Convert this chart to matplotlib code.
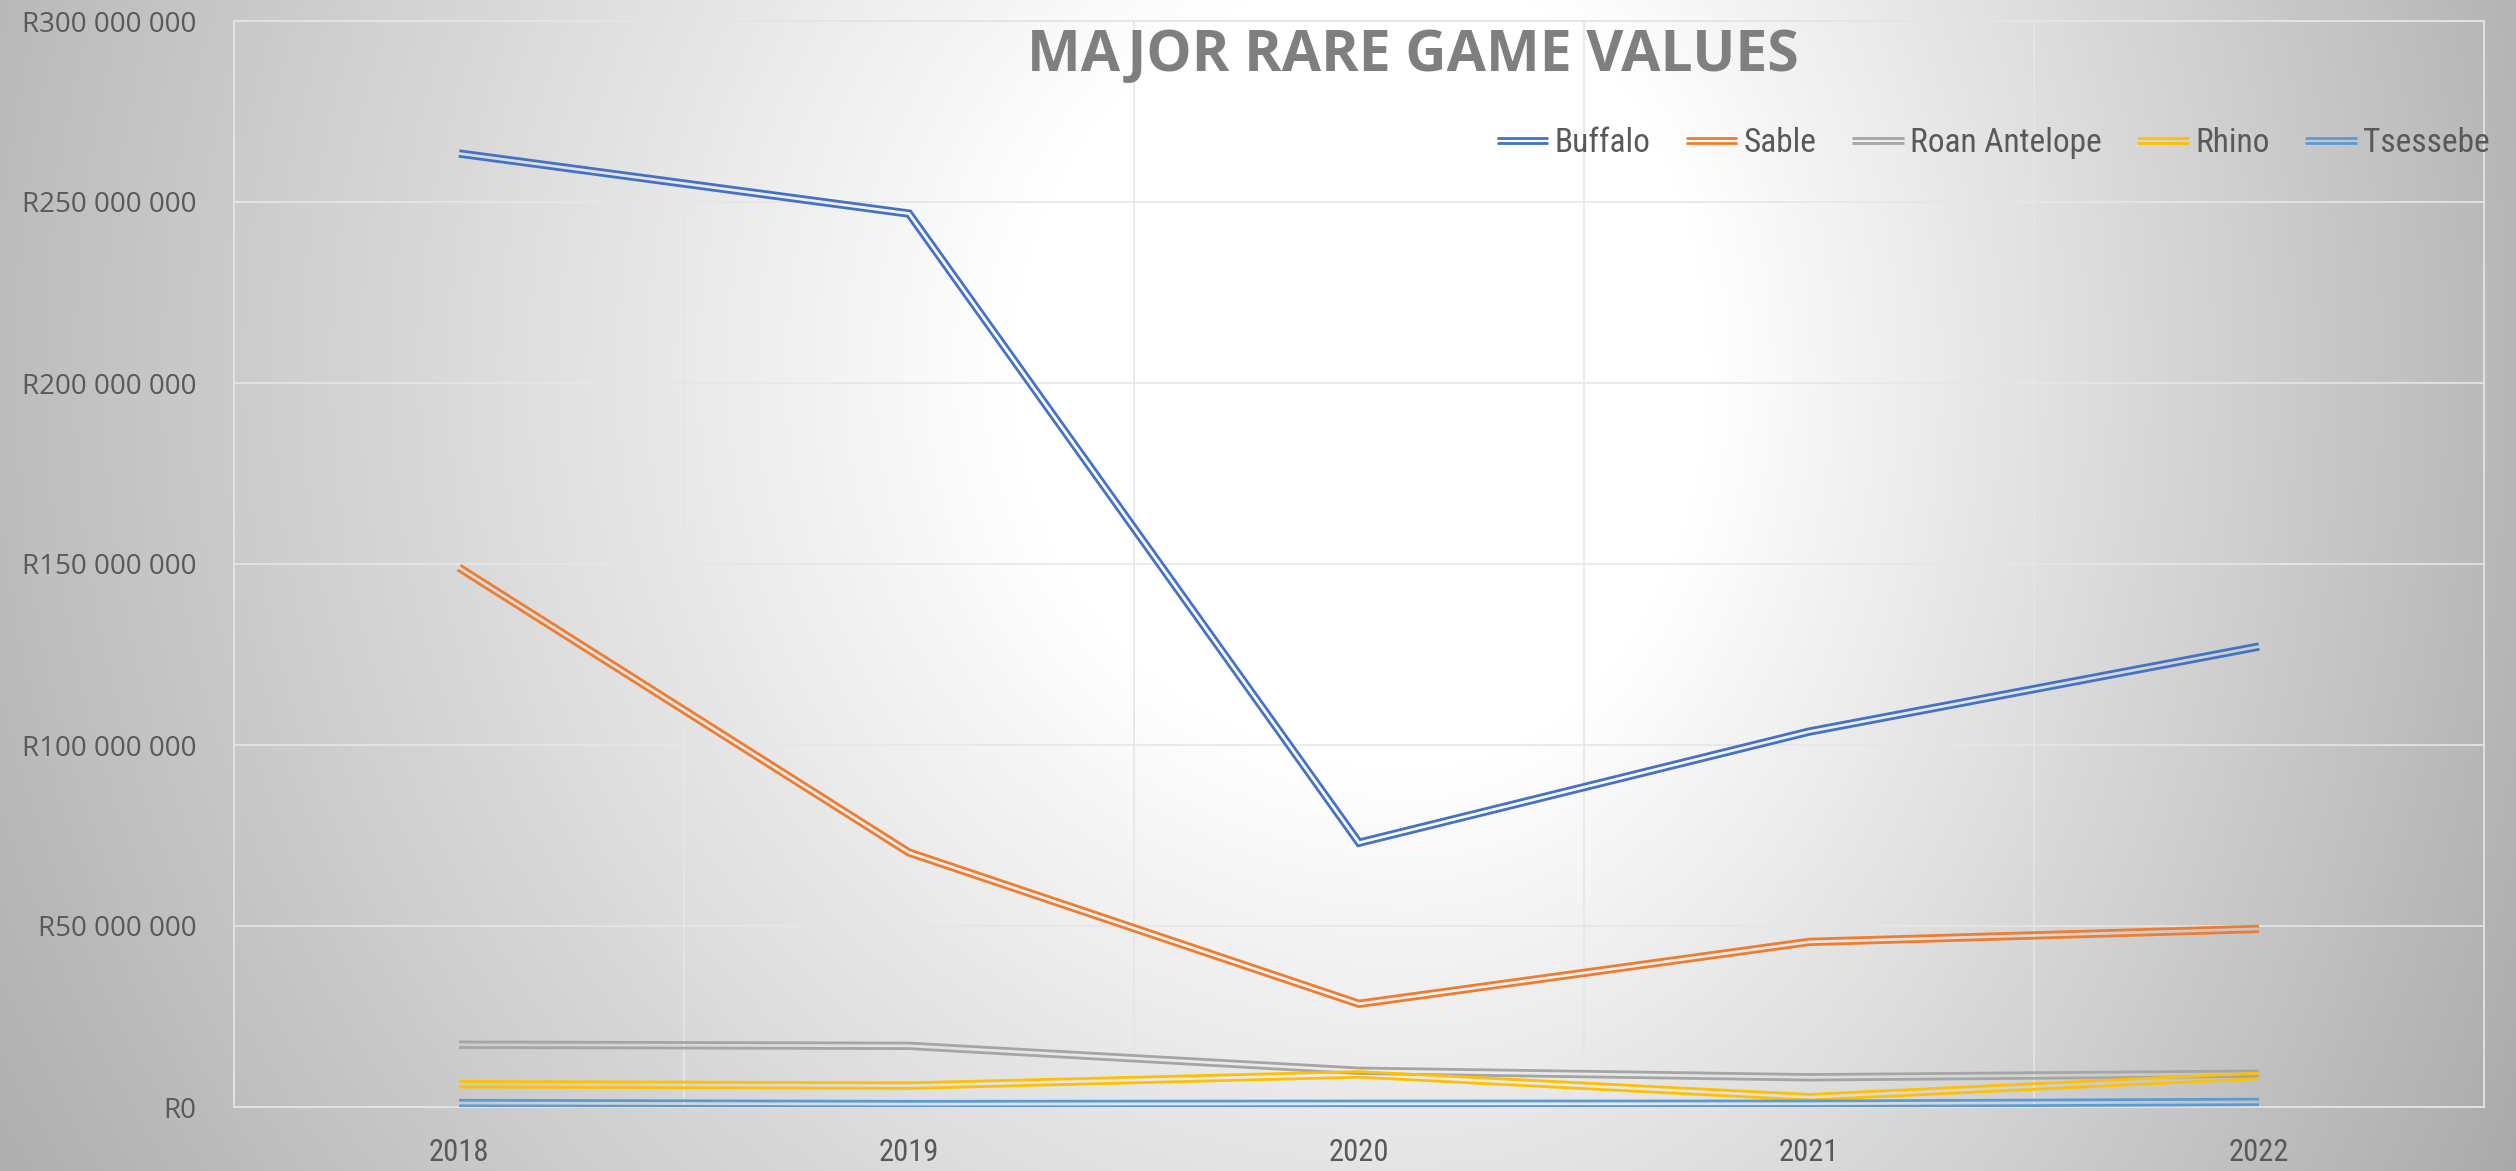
import numpy as np
import matplotlib
matplotlib.use("Agg")
import matplotlib.pyplot as plt
import matplotlib.font_manager as fm
from matplotlib.patheffects import AbstractPathEffect
from matplotlib.path import Path
from matplotlib.transforms import IdentityTransform
from matplotlib.ticker import FuncFormatter, MultipleLocator, FixedLocator

# values (Rand)
years = ["2018", "2019", "2020", "2021", "2022"]
buffalo = [263.4e6, 246.8e6, 73.0e6, 103.7e6, 127.2e6]
sable = [149.0e6, 70.3e6, 28.5e6, 45.6e6, 49.2e6]
roan_antelope = [17.2e6, 16.9e6, 10.0e6, 8.2e6, 9.2e6]
rhino = [6.3e6, 5.9e6, 9.0e6, 2.7e6, 8.6e6]
tsessebe = [1.1e6, 0.8e6, 0.9e6, 0.9e6, 1.4e6]

series_names = ["Buffalo", "Sable", "Roan Antelope", "Rhino", "Tsessebe"]
series_colors = ["#4472C4", "#ED7D31", "#A5A5A5", "#FFC000", "#5B9BD5"]


def offset_poly(pts, d):
    # shift a polyline sideways by d pixels (miter joins)
    seg = pts[1:] - pts[:-1]
    ln = np.hypot(seg[:, 0], seg[:, 1])
    ln[ln == 0] = 1
    t = seg / ln[:, None]
    nrm = np.column_stack([-t[:, 1], t[:, 0]])
    out = np.empty_like(pts)
    out[0] = pts[0] + nrm[0] * d
    out[-1] = pts[-1] + nrm[-1] * d
    for i in range(1, len(pts) - 1):
        m = nrm[i - 1] + nrm[i]
        m = m / np.hypot(*m)
        out[i] = pts[i] + m * d / max(np.dot(m, nrm[i]), 0.2)
    return out


class DoubleLine(AbstractPathEffect):
    """Excel style double (compound) line."""
    def __init__(self, gap):
        super().__init__()
        self.gap = gap

    def draw_path(self, renderer, gc, tpath, affine, rgbFace=None):
        pts = affine.transform(tpath.vertices)
        if len(pts) < 2:
            return
        d = renderer.points_to_pixels(self.gap)
        for s in (-1, 1):
            renderer.draw_path(gc, Path(offset_poly(pts, s * d)), IdentityTransform(), rgbFace)


# pick a regular weight narrow font for the Calibri-ish labels
narrow = None
for want in ["Liberation Sans Narrow", "Roboto Condensed", "Open Sans Condensed", "DejaVu Sans"]:
    for f in fm.fontManager.ttflist:
        if f.name == want and f.weight in (300, 400, "normal", "regular", "light", "book") \
                and f.style == "normal" and (want != "DejaVu Sans" or f.stretch == "condensed"):
            narrow = f.fname
            break
    if narrow:
        break
if narrow:
    narrow_prop = fm.FontProperties(fname=narrow)
else:
    narrow_prop = fm.FontProperties(family="DejaVu Sans")

W, H = 2516, 1171
fig = plt.figure(figsize=(W / 100, H / 100), dpi=100)

# radial grey background
bg = fig.add_axes([0, 0, 1, 1], zorder=-5)
yy, xx = np.mgrid[0:H, 0:W]
dx = xx - 1412.0
dx = np.where(dx > 0, dx * 1.35, dx)
dist = np.hypot(dx, yy - 369.0)
val = 255 - 0.066 * np.clip(dist - 400, 0, None)
val = np.clip(val, 165, 255) / 255.0
bg.imshow(np.dstack([val, val, val]), aspect="auto", extent=(0, 1, 0, 1), origin="upper")
bg.set_axis_off()

ax = fig.add_axes([234 / W, 64 / H, 2250 / W, 1086 / H])
ax.patch.set_alpha(0)

x = np.arange(len(years))
data = [buffalo, sable, roan_antelope, rhino, tsessebe]
for vals, name, col in zip(data, series_names, series_colors):
    ax.plot(x, vals, color=col, lw=2.0, label=name, solid_capstyle="butt",
            solid_joinstyle="miter", path_effects=[DoubleLine(2.0)], zorder=3)

ax.set_xlim(-0.5, len(years) - 0.5)
ax.set_ylim(0, 300e6)
ax.yaxis.set_major_locator(MultipleLocator(50e6))
ax.yaxis.set_major_formatter(FuncFormatter(lambda v, p: "R" + "{:,.0f}".format(v).replace(",", " ")))
ax.set_xticks(x)
ax.set_xticklabels(years)
ax.xaxis.set_minor_locator(FixedLocator(np.arange(0.5, len(years) - 0.5, 1)))

ax.grid(axis="y", which="major", color="#e6e6e6", lw=1.2)
ax.grid(axis="x", which="minor", color="#e6e6e6", lw=1.2)
ax.set_axisbelow(True)
for s in ax.spines.values():
    s.set_color("#e4e4e4")
    s.set_linewidth(1.3)

ax.tick_params(axis="both", which="both", length=0)
ax.tick_params(axis="y", pad=27, labelsize=20, labelcolor="#595959")
ax.tick_params(axis="x", pad=22, labelcolor="#595959")
for lab in ax.get_yticklabels():
    lab.set_family("Open Sans")
for lab in ax.get_xticklabels():
    lab.set_fontproperties(narrow_prop)
    lab.set_fontsize(22)

fig.text(1413 / W, 1 - 56 / H, "MAJOR RARE GAME VALUES", ha="center", va="center",
         fontsize=41, fontweight="bold", color="#7f7f7f", family="Open Sans")

leg_prop = narrow_prop.copy()
leg_prop.set_size(24)
leg = ax.legend(loc="center right", bbox_to_anchor=(2490 / W, 1 - 143 / H),
                bbox_transform=fig.transFigure, ncol=5, frameon=False,
                handlelength=1.55, handletextpad=0.2, columnspacing=1.05,
                borderpad=0, borderaxespad=0, prop=leg_prop)
for t in leg.get_texts():
    t.set_color("#595959")

fig.savefig("out.png", dpi=100)
